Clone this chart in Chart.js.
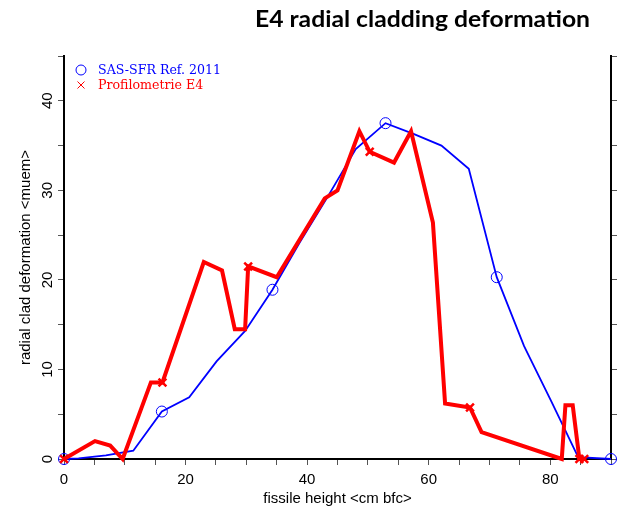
<!DOCTYPE html>
<html>
<head>
<meta charset="utf-8">
<title>E4 radial cladding deformation</title>
<script src="https://cdn.jsdelivr.net/npm/chart.js@4.4.1/dist/chart.umd.min.js"></script>
<style>
  html, body { margin: 0; padding: 0; background: #fff; }
  #wrap { width: 621px; height: 508px; }
</style>
</head>
<body>
<div id="wrap"><canvas id="myChart" width="621" height="508"></canvas></div>
<script>
// SAS-SFR reference calculation (blue)
const refHeight = [0, 2.4, 6.9, 11.4, 16.1, 20.6, 25.1, 29.8, 34.3, 38.8, 43.4, 48.0, 52.9, 57.5, 62.1, 66.6, 71.2, 75.7, 80.2, 84.6, 90];
const refDeform = [0, 0.08, 0.4, 0.93, 5.3, 6.9, 10.9, 14.3, 18.9, 24.2, 29.3, 34.6, 37.5, 36.3, 35.0, 32.4, 20.3, 12.6, 6.4, 0.2, 0];

// profilometry measurement E4 (red)
const profHeight = [0, 5.1, 7.6, 9.65, 14.3, 16.2, 23.0, 26.0, 28.1, 29.8, 30.3, 35.0, 42.9, 45.0, 48.6, 50.3, 54.3, 57.1, 60.7, 62.7, 66.8, 68.7, 81.9, 82.5, 83.7, 84.8, 85.6];
const profDeform = [0, 2.0, 1.5, 0, 8.55, 8.55, 22.0, 21.05, 14.5, 14.5, 21.5, 20.3, 29.1, 30.0, 36.6, 34.3, 33.1, 36.6, 26.4, 6.2, 5.75, 3.0, 0, 6.0, 6.0, 0, 0];

const seriesNames = ['SAS-SFR Ref. 2011', 'Profilometrie E4'];
const titleText = 'E4 radial cladding deformation';
const xTitle = 'fissile height <cm bfc>';
const yTitle = 'radial clad deformation <muem>';

const BLUE = '#0000ff';
const RED = '#ff0000';

function toPoints(xs, ys) {
  return xs.map((x, i) => ({ x: x, y: ys[i] }));
}

// title + legend drawn by hand (legend sits inside the plot, top left)
const overlay = {
  id: 'overlay',
  afterDraw(chart) {
    const ctx = chart.ctx;
    const area = chart.chartArea;
    ctx.save();

    ctx.font = 'bold 23px Lato';
    ctx.fillStyle = '#000';
    ctx.textBaseline = 'alphabetic';
    ctx.textAlign = 'left';
    const w = ctx.measureText(titleText).width;
    const target = 335;
    ctx.translate(255, 27);
    ctx.scale(target / w, 1);
    ctx.fillText(titleText, 0, 0);
    ctx.setTransform(1, 0, 0, 1, 0, 0);

    const sx = area.left + 17, tx = area.left + 34;
    const y1 = 70, y2 = 85;
    ctx.lineWidth = 1;
    ctx.strokeStyle = BLUE;
    ctx.beginPath();
    ctx.arc(sx, y1, 5, 0, Math.PI * 2);
    ctx.stroke();
    ctx.strokeStyle = RED;
    ctx.beginPath();
    ctx.moveTo(sx - 3.5, y2 - 3.5); ctx.lineTo(sx + 3.5, y2 + 3.5);
    ctx.moveTo(sx - 3.5, y2 + 3.5); ctx.lineTo(sx + 3.5, y2 - 3.5);
    ctx.stroke();

    ctx.font = '12.6px "DejaVu Serif"';
    ctx.textBaseline = 'middle';
    ctx.fillStyle = BLUE;
    ctx.fillText(seriesNames[0], tx, y1 + 1);
    ctx.fillStyle = RED;
    ctx.fillText(seriesNames[1], tx, y2 + 1);
    ctx.restore();
  }
};

const tickFont = { family: 'Liberation Sans', size: 15 };

const config = {
  type: 'line',
  data: {
    datasets: [{
      label: seriesNames[0],
      data: toPoints(refHeight, refDeform),
      borderColor: BLUE,
      borderWidth: 1.8,
      pointStyle: 'circle',
      pointRadius: ctx => ctx.dataIndex % 4 === 0 ? 5.5 : 0,
      pointBorderColor: BLUE,
      pointBorderWidth: 1,
      pointBackgroundColor: 'rgba(0,0,0,0)',
      tension: 0,
      clip: false,
      order: 2
    }, {
      label: seriesNames[1],
      data: toPoints(profHeight, profDeform),
      borderColor: RED,
      borderWidth: 4,
      pointStyle: 'crossRot',
      pointRadius: ctx => (ctx.dataIndex % 5 === 0 || ctx.dataIndex === profHeight.length - 1) ? 5.5 : 0,
      pointBorderColor: RED,
      pointBorderWidth: 2.5,
      tension: 0,
      clip: false,
      order: 1
    }]
  },
  options: {
    responsive: false,
    animation: false,
    layout: { padding: { top: 56, left: 0, right: 0, bottom: 0 } },
    scales: {
      x: {
        type: 'linear',
        min: 0,
        max: 90,
        afterFit: s => { s.height = 49; },
        grid: { drawOnChartArea: false, drawTicks: true, tickLength: 6, color: '#555', lineWidth: 1 },
        border: { display: true, color: '#000', width: 2 },
        ticks: {
          stepSize: 5,
          padding: 6,
          color: '#000',
          font: tickFont,
          maxRotation: 0,
          autoSkip: false,
          callback: v => v % 20 === 0 ? String(v) : ''
        },
        title: { display: true, text: xTitle, color: '#000', font: tickFont, padding: { top: 0, bottom: 0 } }
      },
      y: {
        min: 0,
        max: 45,
        afterFit: s => { s.width = 64; },
        grid: { drawOnChartArea: false, drawTicks: true, tickLength: 6, color: '#555', lineWidth: 1 },
        border: { display: true, color: '#000', width: 2 },
        ticks: {
          stepSize: 5,
          padding: 2,
          color: '#000',
          font: tickFont,
          minRotation: 90,
          maxRotation: 90,
          crossAlign: 'center',
          autoSkip: false,
          callback: v => v % 10 === 0 ? String(v) : ''
        },
        title: { display: true, text: yTitle, color: '#000', font: tickFont, padding: { top: 17, bottom: 0 } }
      },
      y2: {
        position: 'right',
        min: 0,
        max: 45,
        afterFit: s => { s.width = 10; },
        grid: { drawOnChartArea: false, drawTicks: true, tickLength: 6, color: '#555', lineWidth: 1 },
        border: { display: true, color: '#000', width: 2 },
        ticks: { stepSize: 5, display: false }
      }
    },
    plugins: {
      legend: { display: false },
      title: { display: false },
      tooltip: { enabled: false }
    }
  },
  plugins: [overlay]
};

const myChart = new Chart(document.getElementById('myChart'), config);
</script>
</body>
</html>
